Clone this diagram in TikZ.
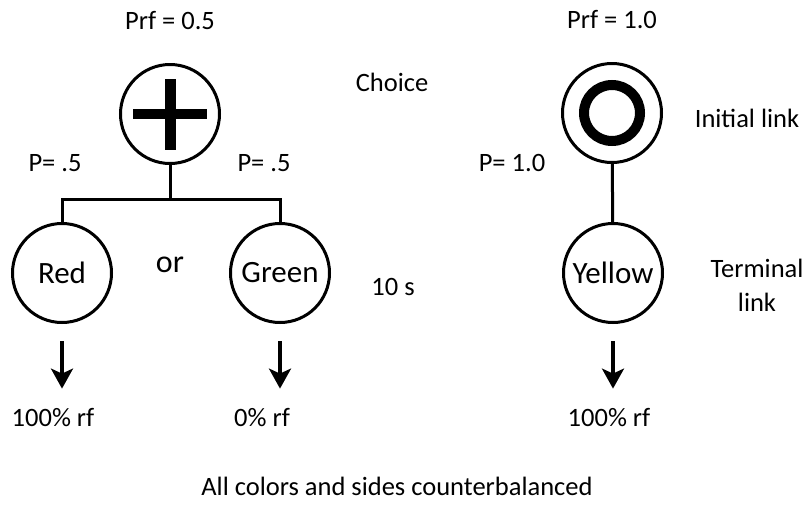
\documentclass[tikz,border=0pt]{standalone}
\usepackage{fontspec}
\setmainfont{Carlito}
\usepackage{tikz}
\usetikzlibrary{
        arrows.meta,
        positioning
    }

\begin{document}
\begin{tikzpicture}
[x=1pt, y=1pt,
baseshape/.style={circle, draw=black, line width=3pt, minimum size=99pt, inner sep=0pt},
linkcircle/.style={baseshape, font=\fontsize{31}{36}\selectfont},
tag/.style={font=\fontsize{26.5}{34}\selectfont, align=center, inner sep=0pt},
link/.style={line width=3pt},
outcome/.style={line width=3.5pt, -{Stealth[length=20pt, width=22pt, inset=5pt]},
    shorten <=17pt, shorten >=20pt},]
\useasboundingbox (0,0) rectangle (806,-504);

% concurrent chain (left)
\node (choice) [baseshape] at (170,-114){};
\draw [line width=10pt] ([xshift=-37pt]choice.center) -- ([xshift=37pt]choice.center);
\draw [line width=11pt] ([yshift=35pt]choice.center) -- ([yshift=-36pt]choice.center);
\node (red) [linkcircle] at (62,-273){Red};
\node (green) [linkcircle] at (280,-273){Green};
\node (or) [tag, font=\fontsize{32}{36}\selectfont] at (170,-265){or};
\coordinate (fork) at (170,-199);

\draw [link] (choice) -- (fork);
\draw [link] (red) |- (fork) -| (green);

\node (prfchoice) [tag, above=33pt of choice]{Prf = 0.5};
\node (pred) [tag] at (55,-163){P= .5};
\node (pgreen) [tag] at (264,-163){P= .5};
\node (choicetag) [tag] at (392,-82){Choice};
\node (delay) [tag] at (393,-287){10 s};

% single chain (right)
\node (initial) [baseshape] at (612,-113){};
\draw [line width=10pt] (initial.center) circle (28pt);
\node (yellow) [linkcircle] at (613,-273){Yellow};
\draw [link] (initial) -- (yellow);

\node (prfinitial) [tag, above=33pt of initial]{Prf = 1.0};
\node (pyellow) [tag] at (512,-163){P= 1.0};
\node (initialtag) [tag] at (747,-118){Initial link};
\node (terminaltag) [tag] at (757,-285){Terminal\\link};

% outcomes
\node (redrf) [tag] at (53,-418){100\% rf};
\node (greenrf) [tag] at (262,-418){0\% rf};
\node (yellowrf) [tag] at (609,-418){100\% rf};

\draw [outcome] (red.south) -- (red.south |- redrf.north);
\draw [outcome] (green.south) -- (green.south |- greenrf.north);
\draw [outcome] (yellow.south) -- (yellow.south |- yellowrf.north);

\node (note) [tag] at (397,-486){All colors and sides counterbalanced};

\end{tikzpicture}
\end{document}
